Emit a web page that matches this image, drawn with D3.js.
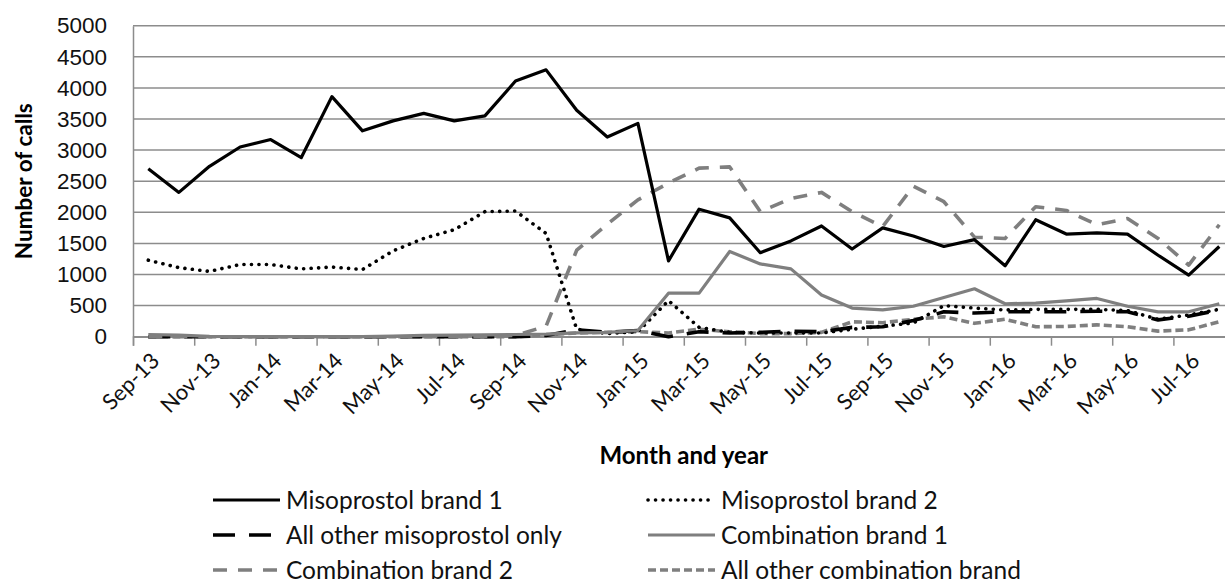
<!DOCTYPE html>
<html>
<head>
<meta charset="utf-8">
<script src="https://cdn.jsdelivr.net/npm/d3@7"></script>
<style>
  body { margin: 0; background: #fff; }
  svg { display: block; font-family: Lato, "Liberation Sans", sans-serif; }
</style>
</head>
<body>
<svg class="chart" width="1225" height="583"></svg>
<script>
var months = ["Sep-13","Oct-13","Nov-13","Dec-13","Jan-14","Feb-14","Mar-14","Apr-14","May-14","Jun-14","Jul-14","Aug-14",
  "Sep-14","Oct-14","Nov-14","Dec-14","Jan-15","Feb-15","Mar-15","Apr-15","May-15","Jun-15","Jul-15","Aug-15",
  "Sep-15","Oct-15","Nov-15","Dec-15","Jan-16","Feb-16","Mar-16","Apr-16","May-16","Jun-16","Jul-16","Aug-16"];

var yTicks = [0, 500, 1000, 1500, 2000, 2500, 3000, 3500, 4000, 4500, 5000];

var misoBrand1 = [2700, 2320, 2740, 3050, 3170, 2880, 3860, 3310, 3470, 3590, 3470, 3550,
  4110, 4290, 3640, 3210, 3430, 1220, 2050, 1910, 1350, 1540, 1780, 1410,
  1750, 1620, 1450, 1560, 1140, 1880, 1650, 1670, 1650, 1310, 990, 1450];
var misoBrand2 = [1230, 1110, 1050, 1160, 1160, 1090, 1120, 1080, 1380, 1580, 1720, 2010,
  2020, 1660, 120, 50, 80, 580, 150, 70, 60, 60, 60, 120,
  170, 220, 500, 460, 430, 440, 440, 440, 420, 280, 350, 440];
var otherMiso = [0, 0, 0, 0, 0, 0, 0, 0, 0, 0, 0, 0,
  0, 20, 110, 70, 100, 0, 80, 60, 70, 90, 80, 150,
  160, 260, 400, 380, 400, 400, 400, 410, 400, 270, 330, 430];
var comboBrand1 = [35, 25, 5, 0, 0, 0, 0, 0, 10, 20, 25, 30,
  35, 40, 60, 70, 100, 700, 700, 1370, 1170, 1090, 670, 460,
  430, 490, 630, 770, 530, 540, 575, 615, 490, 400, 400, 530];
var comboBrand2 = [0, 0, 0, 0, 0, 0, 0, 0, 0, 0, 0, 5,
  20, 170, 1390, 1810, 2200, 2470, 2710, 2730, 2010, 2220, 2320, 2010,
  1770, 2420, 2170, 1600, 1580, 2090, 2030, 1800, 1900, 1580, 1150, 1800];
var otherCombo = [0, 0, 0, 0, 0, 0, 0, 0, 0, 0, 0, 0,
  0, 30, 60, 70, 80, 60, 120, 80, 50, 50, 70, 240,
  225, 280, 320, 215, 280, 160, 165, 190, 160, 90, 110, 240];

var series = [
  {name: "Misoprostol brand 1", values: misoBrand1, color: "#000", dash: null, w: 3.2},
  {name: "Misoprostol brand 2", values: misoBrand2, color: "#000", dash: "0.1,7.4", w: 3.6, cap: "round"},
  {name: "All other misoprostol only", values: otherMiso, color: "#000", dash: "22,14", w: 3.6},
  {name: "Combination brand 1", values: comboBrand1, color: "#7f7f7f", dash: null, w: 3.2},
  {name: "Combination brand 2", values: comboBrand2, color: "#7f7f7f", dash: "14,11", w: 3.6},
  {name: "All other combination brand", values: otherCombo, color: "#7f7f7f", dash: "8,4", w: 3.6}
];

var svg = d3.select(".chart"),
    margin = {top: 25.7, left: 133},
    catW = 30.6,
    width = catW * months.length,
    height = 311;

var x = d3.scaleLinear().domain([0, months.length]).range([0, width]),
    y = d3.scaleLinear().domain([0, 5000]).range([height, 0]);

var g = svg.append("g").attr("transform", "translate(" + margin.left + "," + margin.top + ")");

// gridlines
g.append("g").selectAll("line")
  .data(yTicks)
  .enter().append("line")
    .attr("x1", 0).attr("x2", width)
    .attr("y1", function(d) { return y(d); })
    .attr("y2", function(d) { return y(d); })
    .attr("stroke", "#8c8c8c")
    .attr("stroke-width", 1.5);

// y axis
var yAxis = g.append("g")
  .call(d3.axisLeft(y).tickValues(yTicks).tickSize(0).tickPadding(26).tickFormat(d3.format("d")));
yAxis.select(".domain").attr("stroke", "#8c8c8c").attr("stroke-width", 1.5);
yAxis.selectAll("text").style("font-size", "22.5px").attr("fill", "#111");

// x axis ticks (between categories)
var xAxis = g.append("g")
  .attr("transform", "translate(0," + height + ")")
  .call(d3.axisBottom(x).tickValues(d3.range(0, months.length + 1, 2)).tickSize(9).tickFormat(""));
xAxis.selectAll("line").attr("stroke", "#8c8c8c").attr("stroke-width", 1.5);
xAxis.select(".domain").attr("stroke", "#8c8c8c").attr("stroke-width", 1.5);

// x labels, every other month, rotated
g.append("g").selectAll("text")
  .data(months.filter(function(d, i) { return i % 2 === 0; }))
  .enter().append("text")
    .attr("transform", function(d) {
      var i = months.indexOf(d);
      return "translate(" + (x(i + 0.5) + 7) + "," + (height + 20) + ") rotate(-45)";
    })
    .attr("text-anchor", "end")
    .attr("dy", "0.35em")
    .style("font-size", "22px")
    .attr("fill", "#111")
    .text(function(d) { return d; });

// axis titles
svg.append("text")
  .attr("transform", "translate(32," + (margin.top + height / 2) + ") rotate(-90)")
  .attr("text-anchor", "middle")
  .style("font-size", "22.5px")
  .style("font-weight", "bold")
  .text("Number of calls");

svg.append("text")
  .attr("x", margin.left + width / 2)
  .attr("y", 464)
  .attr("text-anchor", "middle")
  .style("font-size", "24px")
  .style("font-weight", "bold")
  .text("Month and year");

// lines
var line = d3.line()
  .x(function(d, i) { return x(i + 0.5); })
  .y(function(d) { return y(d); });

var order = [5, 2, 1, 3, 4, 0];
g.append("g").selectAll("path")
  .data(order.map(function(k) { return series[k]; }))
  .enter().append("path")
    .attr("fill", "none")
    .attr("stroke", function(d) { return d.color; })
    .attr("stroke-width", function(d) { return d.w; })
    .attr("stroke-dasharray", function(d) { return d.dash; })
    .attr("stroke-linecap", function(d) { return d.cap || "butt"; })
    .attr("stroke-linejoin", "round")
    .attr("d", function(d) { return line(d.values); });

// legend: two columns
var legendPos = [
  {x: 213, y: 500}, {x: 648, y: 500},
  {x: 213, y: 535}, {x: 648, y: 535},
  {x: 213, y: 570}, {x: 648, y: 570}
];
var leg = svg.append("g").selectAll("g")
  .data(series)
  .enter().append("g")
    .attr("transform", function(d, i) { return "translate(" + legendPos[i].x + "," + legendPos[i].y + ")"; });

leg.append("line")
  .attr("x1", 0).attr("x2", 67)
  .attr("stroke", function(d) { return d.color; })
  .attr("stroke-width", function(d) { return d.w; })
  .attr("stroke-dasharray", function(d) { return d.dash; })
  .attr("stroke-linecap", function(d) { return d.cap || "butt"; });

leg.append("text")
  .attr("x", 73)
  .attr("dy", "0.35em")
  .style("font-size", "24.5px")
  .attr("fill", "#111")
  .text(function(d) { return d.name; });
</script>
</body>
</html>
